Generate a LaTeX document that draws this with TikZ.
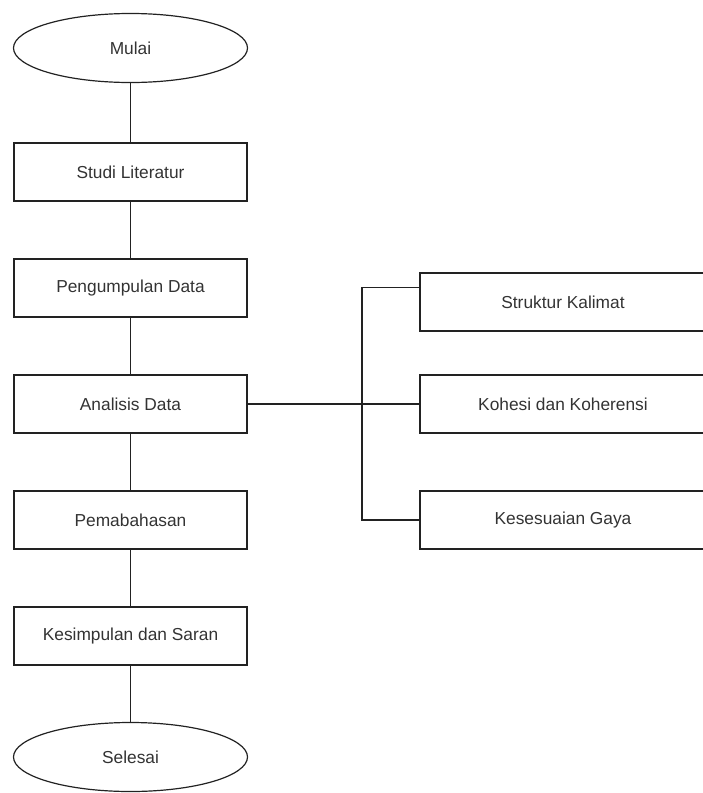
\documentclass[tikz,border=0pt]{standalone}
\usepackage{fontspec}
\setmainfont{Liberation Sans}
\usetikzlibrary{shapes.geometric,calc}
\definecolor{txt}{HTML}{333333}
\definecolor{ln}{HTML}{222222}
\begin{document}
\begin{tikzpicture}[x=0.75pt,y=-0.75pt,
  every node/.style={font=\fontsize{13pt}{15pt}\selectfont, text=txt},
  term/.style={draw=ln, line width=0.9pt, ellipse, inner sep=0pt, minimum width=175.5pt, minimum height=51.75pt},
  stepbox/.style={draw=ln, line width=0.9pt, rectangle, inner sep=0pt, minimum width=174.75pt, minimum height=43.5pt},
  subbox/.style={draw=ln, line width=0.9pt, rectangle, inner sep=0pt, minimum width=214.5pt, minimum height=43.5pt},
  conn/.style={draw=ln, line width=0.9pt}]
\useasboundingbox (0,0) rectangle (703,793);
\node[term] (mulai) at (130.5,48) {Mulai};
\node[stepbox] (studi) at (130.5,172) {Studi Literatur};
\node[stepbox] (peng) at (130.5,288) {Pengumpulan Data};
\node[stepbox] (anal) at (130.5,404) {Analisis Data};
\node[stepbox] (pemb) at (130.5,520) {Pemabahasan};
\node[stepbox] (kes) at (130.5,636) {Kesimpulan dan Saran};
\node[term] (sel) at (130.5,757) {Selesai};
\node[subbox] (struk) at (563,302) {Struktur Kalimat};
\node[subbox] (koh) at (563,404) {Kohesi dan Koherensi};
\node[subbox] (gaya) at (563,520) {Kesesuaian Gaya};
\coordinate (j) at (362,404);
\coordinate (sk) at ($(struk.north west)!0.25!(struk.south west)$);
\draw[conn] (mulai) -- (studi);
\draw[conn] (studi) -- (peng);
\draw[conn] (peng) -- (anal);
\draw[conn] (anal) -- (pemb);
\draw[conn] (pemb) -- (kes);
\draw[conn] (kes) -- (sel);
\draw[conn] (anal) -- (koh);
\draw[conn] (j) |- (sk);
\draw[conn] (j) |- (gaya.west);
\end{tikzpicture}
\end{document}
